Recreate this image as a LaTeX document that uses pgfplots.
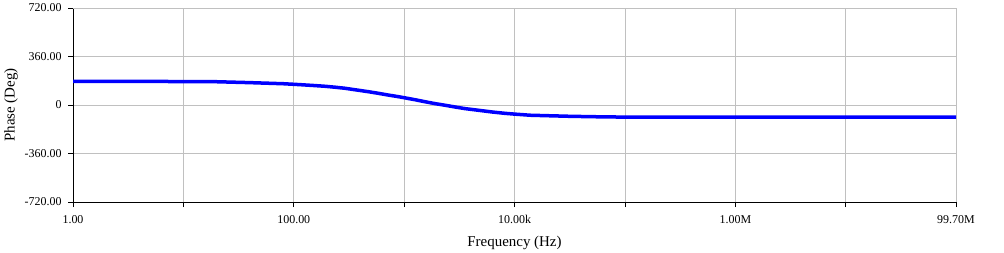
\documentclass[border=0pt]{standalone}
\usepackage{pgfplots}
\pgfplotsset{compat=1.18}
\usepackage{fontspec}
\setmainfont{Liberation Serif}
\definecolor{gridgray}{RGB}{192,192,192}
\definecolor{traceblue}{RGB}{0,0,255}
\begin{document}
\begin{tikzpicture}
\begin{axis}[
  at={(0,0)}, anchor=south west,
  scale only axis, width=883bp, height=194bp,
  xmode=log, xmin=1, xmax=99.7e6,
  ymin=-720, ymax=720,
  xtick={1,10,100,1000,10000,100000,1000000,10000000,99.7e6},
  xticklabels={1.00,,100.00,,10.00k,,1.00M,,99.70M},
  ytick={-720,-360,0,360,720},
  yticklabels={-720.00,-360.00,0,360.00,720.00},
  minor tick num=0, log ticks with fixed point,
  axis x line=bottom, axis y line=left,
  axis line style={-, black, line width=0.8bp},
  tick align=outside, major tick length=5bp,
  tick style={black, line width=0.8bp},
  grid=major, major grid style={gridgray, line width=0.8bp},
  ticklabel style={font=\fontsize{12}{14}\selectfont},
  xticklabel style={yshift=-5bp},
  yticklabel style={xshift=-3bp},
  xlabel={Frequency (Hz)}, ylabel={Phase (Deg)},
  label style={font=\fontsize{15}{17}\selectfont},
  xlabel style={at={(axis description cs:0.5,0)}, anchor=center, yshift=-41bp},
  ylabel style={at={(axis description cs:0,0.5)}, anchor=center, yshift=62bp},
  clip=false,
]
\draw[gridgray, line width=0.8bp] (axis cs:1,720) -- (axis cs:99.7e6,720) -- (axis cs:99.7e6,-720);
\addplot[traceblue, line width=3.5bp, line join=round] coordinates {
(1,175) (5,175) (19.4,173) (40,166) (80,158) (114,151) (156,144) (192,139)
(237,132) (292,124) (360,113) (472,99) (581,87) (716,74) (883,62) (1000,54)
(1258,39) (1550,24) (1910,10) (2354,-2) (2900,-15) (3573,-27) (4688,-39)
(6280,-52) (8230,-62) (10150,-68) (13870,-76) (32000,-84) (73700,-89)
(480000,-90) (99.7e6,-90)
};
\end{axis}
\pgfresetboundingbox
\path[use as bounding box] (-73bp,-51bp) rectangle (931bp,202bp);
\end{tikzpicture}
\end{document}
